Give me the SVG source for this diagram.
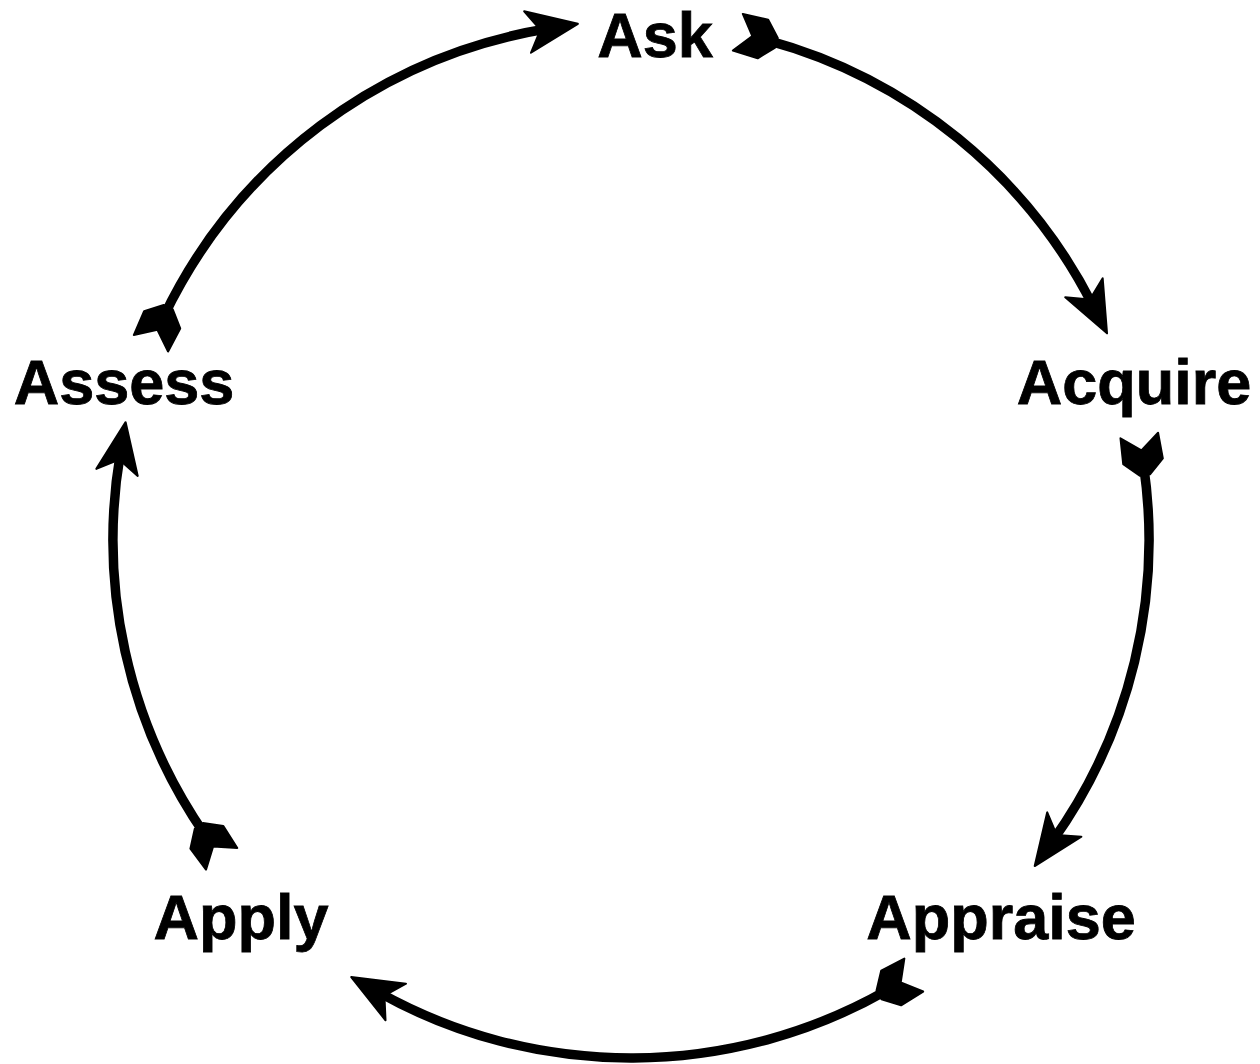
<svg xmlns="http://www.w3.org/2000/svg" width="1260" height="1064" viewBox="0 0 1260 1064">
  <style>
    .lbl { font-family: "Liberation Sans", Arial, sans-serif; font-weight: bold; font-size: 63px; fill: #000; stroke: #000; stroke-width: 0.8; text-anchor: middle; }
    .arc { fill: none; stroke: #000; stroke-width: 9.5; marker-start: url(#tail); marker-end: url(#head); }
    .mk { fill: #000; stroke: #000; stroke-width: 2; stroke-linejoin: round; }
  </style>
  <defs>
    <marker id="head" markerUnits="userSpaceOnUse" orient="auto" overflow="visible" markerWidth="1" markerHeight="1" refX="0" refY="0">
      <path class="mk" d="M31,0 L-20,-21 L-7,0 L-20,21 Z"/>
    </marker>
    <marker id="tail" markerUnits="userSpaceOnUse" orient="auto" overflow="visible" markerWidth="1" markerHeight="1" refX="0" refY="0">
      <path class="mk" d="M-30,-19 L-4,-20 L10,-5 L10,5 L-4,20 L-30,19 L-15,0 Z"/>
    </marker>
  </defs>
  <rect width="1260" height="1064" fill="#fff"/>
  <g id="connectors">
    <path class="arc" d="M766.8,40.1 A518,518 0 0 1 1093.0,305.7"/>
    <path class="arc" d="M1143.6,465.2 A518,518 0 0 1 1052.7,840.8"/>
    <path class="arc" d="M887.7,989.9 A518,518 0 0 1 378.3,992.2"/>
    <path class="arc" d="M204.6,834.1 A518,518 0 0 1 120.4,452.7"/>
    <path class="arc" d="M163.9,316.2 A518,518 0 0 1 547.3,28.8"/>
  </g>
  <g id="ask"><text class="lbl" x="655" y="57">Ask</text></g>
  <g id="acquire"><text class="lbl" x="1134" y="404">Acquire</text></g>
  <g id="appraise"><text class="lbl" x="1001" y="939">Appraise</text></g>
  <g id="apply"><text class="lbl" x="241" y="939">Apply</text></g>
  <g id="assess"><text class="lbl" x="124" y="404">Assess</text></g>
</svg>
